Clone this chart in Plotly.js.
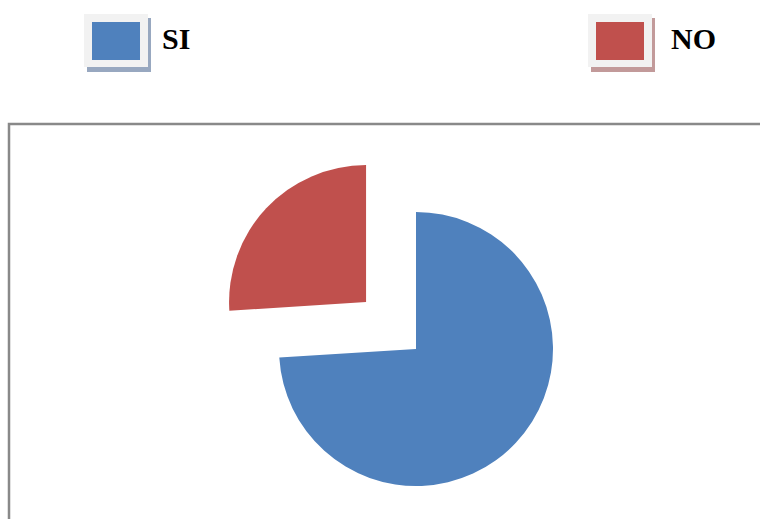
<!DOCTYPE html>
<html>
<head>
<meta charset="utf-8">
<script src="https://cdn.plot.ly/plotly-3.0.1.min.js"></script>
<style>
html, body { margin: 0; padding: 0; overflow: hidden; background: #fff; width: 760px; height: 519px; }
#chart { width: 760px; height: 600px; }
</style>
</head>
<body>
<div id="chart"></div>
<script>
// Data
var labels = ['SI', 'NO'];
var values = [74, 26];
var pulls = [0, 0.5];
var colors = ['#4F81BD', '#C0504D'];
var shadowColors = ['#98A8C0', '#C29A9A'];

var W = 760, H = 600;
function px(x) { return x / W; }
function py(y) { return 1 - y / H; }

// pie geometry in pixels: centre (416, 349), radius 137, max pull 0.5
var cx = 416, cy = 349, r = 137;
var half = r * (1 + Math.max.apply(null, pulls));

var trace = {
  type: 'pie',
  labels: labels,
  values: values,
  pull: pulls,
  sort: false,
  direction: 'clockwise',
  rotation: 0,
  textinfo: 'none',
  hoverinfo: 'label+percent',
  marker: { colors: colors, line: { width: 0 } },
  domain: {
    x: [px(cx - half), px(cx + half)],
    y: [py(cy + half), py(cy - half)]
  },
  showlegend: false
};

// legend boxes (drawn as shapes) and texts from labels
var boxLeft = [84, 588];
var textLeft = [160, 669];
var shapes = [];
var annotations = [];
labels.forEach(function (lab, i) {
  var x0 = boxLeft[i];
  shapes.push({ type: 'rect', xref: 'paper', yref: 'paper',
    x0: px(x0 + 3), x1: px(x0 + 67), y0: py(72), y1: py(18),
    fillcolor: shadowColors[i], line: { width: 0 } });
  shapes.push({ type: 'rect', xref: 'paper', yref: 'paper',
    x0: px(x0), x1: px(x0 + 64), y0: py(67), y1: py(14),
    fillcolor: '#F2F2F2', line: { width: 0 } });
  shapes.push({ type: 'rect', xref: 'paper', yref: 'paper',
    x0: px(x0 + 8), x1: px(x0 + 56), y0: py(60), y1: py(22),
    fillcolor: colors[i], line: { width: 0 } });
  annotations.push({ xref: 'paper', yref: 'paper', x: px(textLeft[i]), y: py(38),
    xanchor: 'left', yanchor: 'middle', showarrow: false,
    text: '<b>' + lab + '</b>',
    font: { family: 'Liberation Serif, Times New Roman, serif', size: 30, color: '#000' } });
});

// frame (top and left edges visible)
shapes.push({ type: 'path', xref: 'paper', yref: 'paper',
  path: 'M ' + px(9) + ' ' + py(640) + ' L ' + px(9) + ' ' + py(124) + ' L ' + px(800) + ' ' + py(124),
  line: { color: '#898989', width: 2.5 } });

var layout = {
  width: W, height: H,
  margin: { l: 0, r: 0, t: 0, b: 0 },
  paper_bgcolor: '#fff',
  plot_bgcolor: '#fff',
  showlegend: false,
  shapes: shapes,
  annotations: annotations
};

Plotly.newPlot('chart', [trace], layout, { displayModeBar: false, staticPlot: true });
</script>
</body>
</html>
